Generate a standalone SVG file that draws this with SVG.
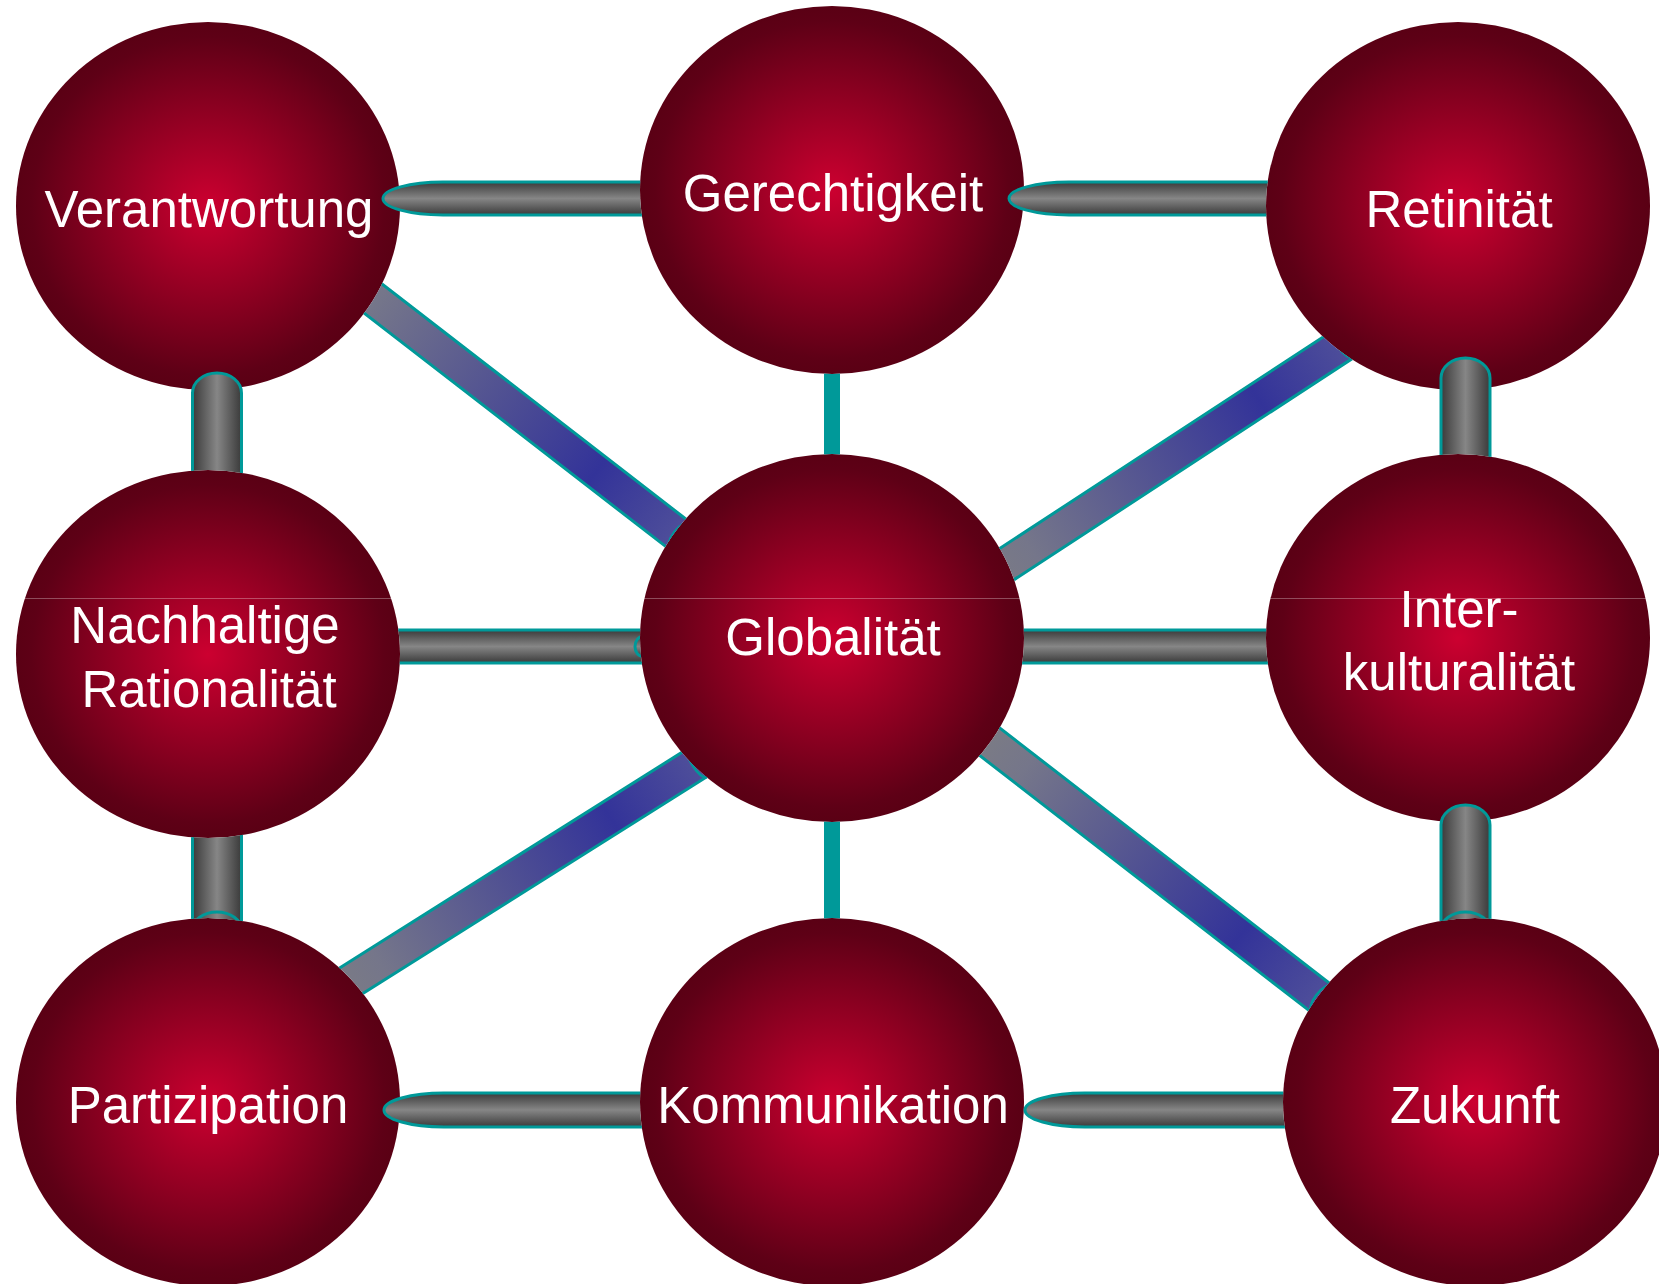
<svg xmlns="http://www.w3.org/2000/svg" width="1659" height="1284" viewBox="0 0 1659 1284">
<style>
.nd{fill:url(#ng)}
.lbl{font-family:"Liberation Sans",Arial,sans-serif;font-size:51px;fill:#ffffff;text-anchor:middle}
.th{fill:url(#gh);stroke:#009999;stroke-width:3}
.tv{fill:url(#gv);stroke:#009999;stroke-width:3}
.dg{fill:url(#gd);stroke:#009999;stroke-width:3}
.dc{fill:#4f4f9a;stroke:#009999;stroke-width:2.5}
.tl{fill:#009999}
</style>
<defs>
<radialGradient id="ng" cx="0.5" cy="0.5" r="0.5">
<stop offset="0" stop-color="#cc0030"/>
<stop offset="0.92" stop-color="#5e0016"/>
<stop offset="1" stop-color="#5a0014"/>
</radialGradient>
<linearGradient id="gh" x1="0" y1="0" x2="0" y2="1">
<stop offset="0" stop-color="#3a3a3a"/>
<stop offset="0.5" stop-color="#868686"/>
<stop offset="1" stop-color="#3a3a3a"/>
</linearGradient>
<linearGradient id="gv" x1="0" y1="0" x2="1" y2="0">
<stop offset="0" stop-color="#3a3a3a"/>
<stop offset="0.5" stop-color="#868686"/>
<stop offset="1" stop-color="#3a3a3a"/>
</linearGradient>
<linearGradient id="gd" x1="0" y1="0" x2="1" y2="0">
<stop offset="0" stop-color="#808080"/>
<stop offset="0.2" stop-color="#75768a"/>
<stop offset="0.78" stop-color="#333399"/>
<stop offset="1" stop-color="#4f4f9a"/>
</linearGradient>
<clipPath id="cG"><path clip-rule="evenodd" d="M0,0H1659V1284H0Z M640,190a192,184 0 1,0 384,0a192,184 0 1,0 -384,0Z"/></clipPath>
<clipPath id="cR"><path clip-rule="evenodd" d="M0,0H1659V1284H0Z M1266,206a192,184 0 1,0 384,0a192,184 0 1,0 -384,0Z"/></clipPath>
<clipPath id="cNGl"><path clip-rule="evenodd" d="M0,0H1659V1284H0Z M16,654a192,184 0 1,0 384,0a192,184 0 1,0 -384,0Z M640,638a192,184 0 1,0 384,0a192,184 0 1,0 -384,0Z"/></clipPath>
<clipPath id="cGlI"><path clip-rule="evenodd" d="M0,0H1659V1284H0Z M640,638a192,184 0 1,0 384,0a192,184 0 1,0 -384,0Z M1266,638a192,184 0 1,0 384,0a192,184 0 1,0 -384,0Z"/></clipPath>
<clipPath id="cK"><path clip-rule="evenodd" d="M0,0H1659V1284H0Z M640,1102a192,184 0 1,0 384,0a192,184 0 1,0 -384,0Z"/></clipPath>
<clipPath id="cZ"><path clip-rule="evenodd" d="M0,0H1659V1284H0Z M1283,1102a192,184 0 1,0 384,0a192,184 0 1,0 -384,0Z"/></clipPath>
<clipPath id="cN"><path clip-rule="evenodd" d="M0,0H1659V1284H0Z M16,654a192,184 0 1,0 384,0a192,184 0 1,0 -384,0Z"/></clipPath>
<clipPath id="cNP"><path clip-rule="evenodd" d="M0,0H1659V1284H0Z M16,654a192,184 0 1,0 384,0a192,184 0 1,0 -384,0Z M16,1102a192,184 0 1,0 384,0a192,184 0 1,0 -384,0Z"/></clipPath>
<clipPath id="cI"><path clip-rule="evenodd" d="M0,0H1659V1284H0Z M1266,638a192,184 0 1,0 384,0a192,184 0 1,0 -384,0Z"/></clipPath>
<clipPath id="cT"><path clip-rule="evenodd" d="M0,0H1659V1284H0Z M640,190a192,184 0 1,0 384,0a192,184 0 1,0 -384,0Z M640,638a192,184 0 1,0 384,0a192,184 0 1,0 -384,0Z M640,1102a192,184 0 1,0 384,0a192,184 0 1,0 -384,0Z"/></clipPath>
<clipPath id="cVGl"><path clip-rule="evenodd" d="M0,0H1659V1284H0Z M16,206a192,184 0 1,0 384,0a192,184 0 1,0 -384,0Z M640,638a192,184 0 1,0 384,0a192,184 0 1,0 -384,0Z"/></clipPath>
<clipPath id="cGlR"><path clip-rule="evenodd" d="M0,0H1659V1284H0Z M640,638a192,184 0 1,0 384,0a192,184 0 1,0 -384,0Z M1266,206a192,184 0 1,0 384,0a192,184 0 1,0 -384,0Z"/></clipPath>
<clipPath id="cPGl"><path clip-rule="evenodd" d="M0,0H1659V1284H0Z M16,1102a192,184 0 1,0 384,0a192,184 0 1,0 -384,0Z M640,638a192,184 0 1,0 384,0a192,184 0 1,0 -384,0Z"/></clipPath>
<clipPath id="cGlZ"><path clip-rule="evenodd" d="M0,0H1659V1284H0Z M640,638a192,184 0 1,0 384,0a192,184 0 1,0 -384,0Z M1283,1102a192,184 0 1,0 384,0a192,184 0 1,0 -384,0Z"/></clipPath>
</defs>
<rect width="1659" height="1284" fill="#ffffff"/>
<g id="nodes">
<g id="n-verantwortung"><ellipse class="nd" cx="208" cy="206" rx="192" ry="184"/><text class="lbl" x="209" y="227">Verantwortung</text></g>
<g id="n-gerechtigkeit"><ellipse class="nd" cx="832" cy="190" rx="192" ry="184"/><text class="lbl" x="833" y="211">Gerechtigkeit</text></g>
<g id="n-retinitaet"><ellipse class="nd" cx="1458" cy="206" rx="192" ry="184"/><text class="lbl" x="1459" y="227">Retinität</text></g>
<g id="n-nachhaltige"><ellipse class="nd" cx="208" cy="654" rx="192" ry="184"/><text class="lbl" x="205" y="643">Nachhaltige</text><text class="lbl" x="209" y="707">Rationalität</text></g>
<g id="n-globalitaet"><ellipse class="nd" cx="832" cy="638" rx="192" ry="184"/><text class="lbl" x="833" y="655">Globalität</text></g>
<g id="n-interkulturalitaet"><ellipse class="nd" cx="1458" cy="638" rx="192" ry="184"/><text class="lbl" x="1459" y="627">Inter-</text><text class="lbl" x="1459" y="690">kulturalität</text></g>
<g id="n-partizipation"><ellipse class="nd" cx="208" cy="1102" rx="192" ry="184"/><text class="lbl" x="208" y="1123">Partizipation</text></g>
<g id="n-kommunikation"><ellipse class="nd" cx="832" cy="1102" rx="192" ry="184"/><text class="lbl" x="833" y="1123">Kommunikation</text></g>
<g id="n-zukunft"><ellipse class="nd" cx="1475" cy="1102" rx="192" ry="184"/><text class="lbl" x="1475" y="1123">Zukunft</text></g>
<line x1="0" y1="598.5" x2="1659" y2="598.5" stroke="#ffffff" stroke-opacity="0.3" stroke-width="1"/>
</g>
<g id="connectors">
<path class="th" clip-path="url(#cG)" d="M700,182H443A60,16.5 0 0 0 443,215H700Z"/>
<path class="th" clip-path="url(#cR)" d="M1320,182H1069A60,16.5 0 0 0 1069,215H1320Z"/>
<g clip-path="url(#cNGl)"><rect class="th" x="380" y="630" width="265" height="33"/><ellipse class="th" cx="643" cy="646.5" rx="8" ry="10"/></g>
<rect class="th" clip-path="url(#cGlI)" x="1000" y="630" width="290" height="33"/>
<path class="th" clip-path="url(#cK)" d="M700,1093H444A60,17 0 0 0 444,1127H700Z"/>
<path class="th" clip-path="url(#cZ)" d="M1340,1093H1085A60,17 0 0 0 1085,1127H1340Z"/>
<path class="tv" clip-path="url(#cN)" d="M192.5,520V393A24.5,20 0 0 1 241.5,393V520Z"/>
<g clip-path="url(#cNP)"><rect class="tv" x="192.5" y="780" width="49" height="150"/><ellipse class="tv" cx="217" cy="930" rx="24.5" ry="18"/></g>
<path class="tv" clip-path="url(#cI)" d="M1441,500V378A24.5,20 0 0 1 1490,378V500Z"/>
<g clip-path="url(#cZ)"><path class="tv" d="M1441,930V825A24.5,20 0 0 1 1490,825V930Z"/><ellipse class="tv" cx="1465.5" cy="930" rx="24.5" ry="18"/></g>
<g clip-path="url(#cT)"><rect class="tl" x="824" y="340" width="16" height="140"/><rect class="tl" x="824" y="800" width="16" height="140"/></g>
<g clip-path="url(#cVGl)"><g transform="translate(300,242) rotate(37.73)"><rect class="dg" x="0" y="-17" width="480.5" height="34"/><ellipse class="dc" cx="480.5" cy="0" rx="7" ry="17"/></g></g>
<g clip-path="url(#cGlR)"><g transform="translate(952,600) rotate(-33.18)"><rect class="dg" x="0" y="-17" width="469.6" height="34"/><ellipse class="dc" cx="469.6" cy="0" rx="8" ry="17"/></g></g>
<g clip-path="url(#cPGl)"><g transform="translate(300,1013) rotate(-32.21)"><rect class="dg" x="0" y="-17" width="470" height="34"/><ellipse class="dc" cx="470" cy="0" rx="6" ry="17"/></g></g>
<g clip-path="url(#cGlZ)"><g transform="translate(950,711) rotate(37.75)"><rect class="dg" x="0" y="-17" width="470.5" height="34"/><ellipse class="dc" cx="470.5" cy="0" rx="7" ry="17"/></g></g>
</g>
</svg>
